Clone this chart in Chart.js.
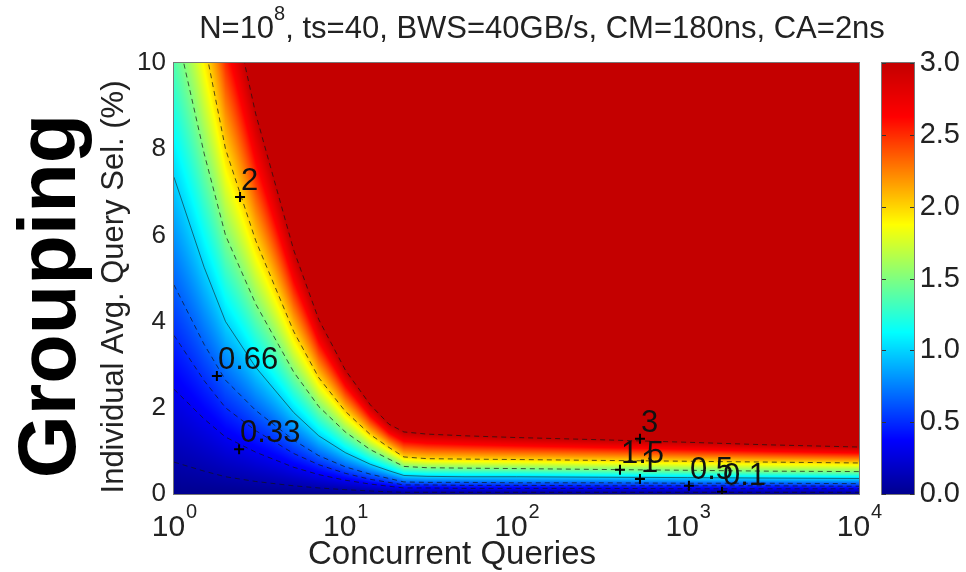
<!DOCTYPE html>
<html>
<head>
<meta charset="utf-8">
<script src="https://cdn.jsdelivr.net/npm/chart.js@4.4.1/dist/chart.umd.min.js"></script>
<style>
  html, body { margin: 0; padding: 0; background: #fff; }
  #wrap { width: 966px; height: 572px; }
</style>
</head>
<body>
<div id="wrap"><canvas id="chart" width="966" height="572"></canvas></div>
<script>
// ===================== Data =====================
// x positions (concurrent queries) where the contour lines were read off
const queries = [1, 1.5, 2, 3, 5, 7, 10, 14, 18, 22, 30, 50, 100, 300, 1000, 3000, 10000];
// contour levels, lowest first
const levels = [0.1, 0.33, 0.5, 0.66, 1, 1.5, 2, 3];
// selectivity (%) of each contour at the query positions above
const contour010 = [0.74, 0.53, 0.40, 0.29, 0.19, 0.14, 0.10, 0.07, 0.05, 0.04, 0.04, 0.04, 0.04, 0.04, 0.04, 0.04, 0.04];
const contour033 = [2.43, 1.74, 1.32, 0.97, 0.62, 0.45, 0.32, 0.23, 0.18, 0.14, 0.14, 0.13, 0.13, 0.13, 0.12, 0.12, 0.12];
const contour050 = [3.68, 2.63, 2.00, 1.47, 0.94, 0.68, 0.48, 0.34, 0.27, 0.21, 0.21, 0.20, 0.20, 0.19, 0.19, 0.19, 0.18];
const contour066 = [4.85, 3.47, 2.64, 1.94, 1.25, 0.89, 0.63, 0.46, 0.36, 0.28, 0.27, 0.27, 0.26, 0.26, 0.25, 0.25, 0.24];
const contour100 = [7.35, 5.26, 4.00, 2.94, 1.89, 1.35, 0.96, 0.69, 0.54, 0.43, 0.41, 0.40, 0.40, 0.39, 0.38, 0.37, 0.36];
const contour150 = [11.0, 7.90, 6.00, 4.41, 2.83, 2.03, 1.44, 1.03, 0.81, 0.64, 0.61, 0.60, 0.59, 0.57, 0.55, 0.53, 0.52];
const contour200 = [14.7, 10.5, 8.00, 5.88, 3.77, 2.70, 1.92, 1.38, 1.08, 0.86, 0.82, 0.81, 0.80, 0.78, 0.76, 0.74, 0.72];
const contour300 = [22.1, 15.8, 12.0, 8.82, 5.66, 4.05, 2.88, 2.07, 1.62, 1.44, 1.39, 1.35, 1.31, 1.26, 1.20, 1.14, 1.09];
const contourLines = [contour010, contour033, contour050, contour066, contour100, contour150, contour200, contour300];

// contour labels (clabel style, a "+" marker with text)
const labelTexts   = ['2', '0.66', '0.33', '3', '1.5', '1', '0.5', '0.1'];
const labelQueries = [2.43, 1.78, 2.40, 526, 402, 526, 1016, 1585];
const labelSel     = [6.89, 2.74, 1.04, 1.28, 0.56, 0.35, 0.19, 0.05];

// ticks
const xTickExps = [0, 1, 2, 3, 4];
const yTicks = [0, 2, 4, 6, 8, 10];
const cbTicks = [0, 0.5, 1, 1.5, 2, 2.5, 3];
const cbMax = 3;

const FONT = '"Liberation Sans", Arial, sans-serif';

// ===================== Helpers =====================
function interpAt(arr, q) {
  const lq = Math.log10(q);
  for (let i = 0; i < queries.length - 1; i++) {
    const a = Math.log10(queries[i]), b = Math.log10(queries[i + 1]);
    if (lq <= b || i === queries.length - 2) {
      const t = (lq - a) / (b - a);
      return arr[i] + (arr[i + 1] - arr[i]) * t;
    }
  }
}

function fieldValue(sAt, s) {
  let prevS = 0, prevL = 0;
  for (let i = 0; i < levels.length; i++) {
    if (s < sAt[i]) return prevL + (levels[i] - prevL) * (s - prevS) / (sAt[i] - prevS);
    prevS = sAt[i];
    prevL = levels[i];
  }
  return cbMax;
}

// jet, with the top end a bit lighter like the reference
const jetStops = [
  [0.000, 0, 0, 143],
  [0.125, 0, 0, 255],
  [0.375, 0, 255, 255],
  [0.625, 255, 255, 0],
  [0.875, 255, 0, 0],
  [1.000, 196, 0, 0]
];
function jet(t) {
  t = Math.max(0, Math.min(1, t));
  for (let i = 0; i < jetStops.length - 1; i++) {
    const a = jetStops[i], b = jetStops[i + 1];
    if (t <= b[0]) {
      const f = (t - a[0]) / (b[0] - a[0]);
      return [a[1] + (b[1] - a[1]) * f, a[2] + (b[2] - a[2]) * f, a[3] + (b[3] - a[3]) * f];
    }
  }
  return jetStops[jetStops.length - 1].slice(1);
}

// ===================== Plugins =====================
const heatmapPlugin = {
  id: 'heatmap',
  beforeDatasetsDraw(chart) {
    const { ctx, chartArea: a, scales: { x, y } } = chart;
    const w = Math.round(a.right - a.left), h = Math.round(a.bottom - a.top);
    const off = document.createElement('canvas');
    off.width = w; off.height = h;
    const octx = off.getContext('2d');
    const img = octx.createImageData(w, h);
    for (let i = 0; i < w; i++) {
      const q = x.getValueForPixel(a.left + i + 0.5);
      const sAt = contourLines.map(c => interpAt(c, q));
      for (let j = 0; j < h; j++) {
        const s = y.getValueForPixel(a.top + j + 0.5);
        const c = jet(fieldValue(sAt, s) / cbMax);
        const k = (j * w + i) * 4;
        img.data[k] = c[0]; img.data[k + 1] = c[1]; img.data[k + 2] = c[2]; img.data[k + 3] = 255;
      }
    }
    octx.putImageData(img, 0, 0);
    ctx.drawImage(off, a.left, a.top);
  }
};

const decorPlugin = {
  id: 'decor',
  afterDraw(chart) {
    const { ctx, chartArea: a, scales: { x, y, cb } } = chart;
    ctx.save();

    // axes box
    ctx.strokeStyle = '#777';
    ctx.lineWidth = 1;
    ctx.strokeRect(a.left - 0.5, a.top - 0.5, a.right - a.left + 1, a.bottom - a.top + 1);

    // colorbar
    const cbLeft = a.right + 23, cbW = 32;
    for (let py = Math.floor(cb.top); py < cb.bottom; py++) {
      const c = jet(cb.getValueForPixel(py + 0.5) / cbMax);
      ctx.fillStyle = `rgb(${c[0]},${c[1]},${c[2]})`;
      ctx.fillRect(cbLeft, py, cbW, 1);
    }
    ctx.strokeStyle = '#777';
    ctx.strokeRect(cbLeft - 0.5, cb.top - 0.5, cbW + 1, cb.bottom - cb.top + 1);
    ctx.strokeStyle = '#333';
    cbTicks.forEach(v => {
      const py = Math.round(cb.getPixelForValue(v)) + 0.5;
      ctx.beginPath();
      ctx.moveTo(cbLeft + cbW - 4, py); ctx.lineTo(cbLeft + cbW, py);
      ctx.moveTo(cbLeft, py); ctx.lineTo(cbLeft + 4, py);
      ctx.stroke();
    });

    ctx.fillStyle = '#222';
    ctx.textBaseline = 'alphabetic';

    // contour labels
    ctx.font = `31px ${FONT}`;
    ctx.textAlign = 'left';
    ctx.fillStyle = '#111';
    labelTexts.forEach((t, i) => {
      const px = x.getPixelForValue(labelQueries[i]);
      const py = y.getPixelForValue(labelSel[i]);
      ctx.fillText(t, px + 1, py - 7);
    });

    // x tick labels 10^k
    ctx.fillStyle = '#222';
    xTickExps.forEach(e => {
      const px = x.getPixelForValue(Math.pow(10, e));
      ctx.font = `30px ${FONT}`;
      const wBase = ctx.measureText('10').width;
      ctx.font = `20px ${FONT}`;
      const wExp = ctx.measureText(String(e)).width;
      const start = px - (wBase + wExp) / 2;
      ctx.font = `30px ${FONT}`;
      ctx.textAlign = 'left';
      ctx.fillText('10', start, a.bottom + 42);
      ctx.font = `20px ${FONT}`;
      ctx.fillText(String(e), start + wBase + 1, a.bottom + 24);
    });

    // x axis title
    ctx.font = `33px ${FONT}`;
    ctx.textAlign = 'center';
    ctx.fillText('Concurrent Queries', 452, 564);

    // title with superscript
    const t1 = 'N=10', t2 = '8', t3 = ', ts=40, BWS=40GB/s, CM=180ns, CA=2ns';
    ctx.font = `31px ${FONT}`;
    const w1 = ctx.measureText(t1).width, w3 = ctx.measureText(t3).width;
    ctx.font = `20px ${FONT}`;
    const w2 = ctx.measureText(t2).width;
    const tx = 542 - (w1 + w2 + w3) / 2;
    ctx.textAlign = 'left';
    ctx.font = `31px ${FONT}`;
    ctx.fillText(t1, tx, 38);
    ctx.fillText(t3, tx + w1 + w2, 38);
    ctx.font = `20px ${FONT}`;
    ctx.fillText(t2, tx + w1, 20);

    // y axis title
    ctx.save();
    ctx.translate(123, 287);
    ctx.rotate(-Math.PI / 2);
    ctx.font = `31px ${FONT}`;
    ctx.textAlign = 'center';
    ctx.fillText('Individual Avg. Query Sel. (%)', 0, 0);
    ctx.restore();

    // big "Grouping" tag
    ctx.save();
    ctx.translate(75, 296);
    ctx.rotate(-Math.PI / 2);
    ctx.font = `bold 81px ${FONT}`;
    ctx.textAlign = 'center';
    ctx.fillStyle = '#000';
    ctx.fillText('Grouping', 0, 0);
    ctx.restore();

    ctx.restore();
  }
};

// ===================== Chart =====================
function buildDatasets() {
  const lines = contourLines.map((arr, i) => ({
    type: 'line',
    label: 'contour ' + levels[i],
    data: queries.map((q, j) => ({ x: q, y: arr[j] })),
    borderColor: levels[i] === 1 ? 'rgba(20,20,20,0.55)' : 'rgba(20,20,20,0.7)',
    borderWidth: 1,
    borderDash: levels[i] === 1 ? [] : [5, 4],
    pointRadius: 0,
    tension: 0,
    fill: false,
    yAxisID: 'y'
  }));
  lines.push({
    type: 'scatter',
    label: 'labels',
    data: labelQueries.map((q, i) => ({ x: q, y: labelSel[i] })),
    pointStyle: 'cross',
    pointRadius: 5,
    borderWidth: 2,
    borderColor: '#000',
    yAxisID: 'y'
  });
  return lines;
}

function setupChart() {
  new Chart(document.getElementById('chart').getContext('2d'), {
    type: 'scatter',
    data: { datasets: buildDatasets() },
    options: {
      responsive: false,
      animation: false,
      devicePixelRatio: 1,
      layout: { padding: { top: 63, left: 0, right: 6, bottom: 0 } },
      plugins: { legend: { display: false }, tooltip: { enabled: false }, title: { display: false } },
      scales: {
        x: {
          type: 'logarithmic', min: 1, max: 10000,
          ticks: { display: false },
          grid: { display: false, drawTicks: false },
          border: { display: false },
          afterFit: s => { s.height = 78; }
        },
        y: {
          min: 0, max: 10,
          afterBuildTicks: s => { s.ticks = yTicks.map(v => ({ value: v })); },
          ticks: { font: { family: FONT, size: 26 }, color: '#222', padding: 8 },
          grid: { display: false, drawTicks: false },
          border: { display: false },
          afterFit: s => { s.width = 174; }
        },
        cb: {
          position: 'right', min: 0, max: cbMax,
          afterBuildTicks: s => { s.ticks = cbTicks.map(v => ({ value: v })); },
          ticks: { font: { family: FONT, size: 29 }, color: '#222', padding: 0, crossAlign: 'far', callback: v => v.toFixed(1) },
          grid: { display: false, drawTicks: false },
          border: { display: false },
          afterFit: s => { s.width = 101; }
        }
      }
    },
    plugins: [heatmapPlugin, decorPlugin]
  });
}

document.addEventListener('DOMContentLoaded', setupChart);
</script>
</body>
</html>
